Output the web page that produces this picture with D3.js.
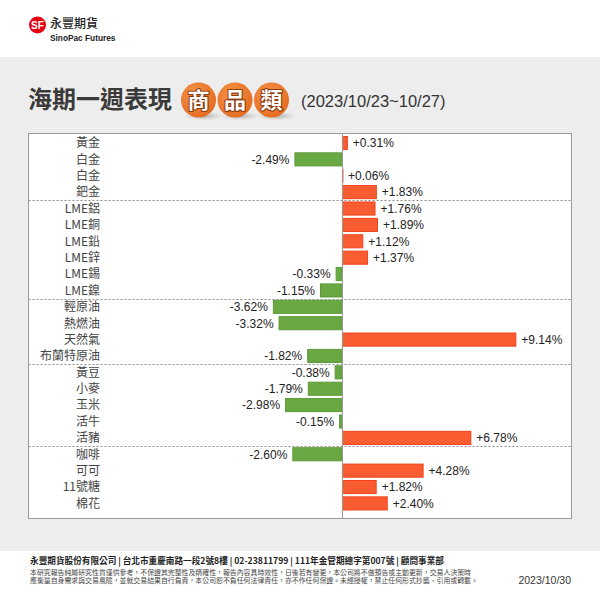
<!DOCTYPE html>
<html><head><meta charset="utf-8">
<script src="https://cdn.jsdelivr.net/npm/d3@7"></script>
<style>
html,body{margin:0;padding:0;background:#fff;}
svg{display:block;}
</style></head>
<body>
<svg id="chart" width="600" height="600"></svg>
<script>
const categories = ["黃金","白金","白金","鈀金","LME鋁","LME銅","LME鉛","LME鋅","LME錫","LME鎳","輕原油","熱燃油","天然氣","布蘭特原油","黃豆","小麥","玉米","活牛","活豬","咖啡","可可","11號糖","棉花"];
const values = [0.31,-2.49,0.06,1.83,1.76,1.89,1.12,1.37,-0.33,-1.15,-3.62,-3.32,9.14,-1.82,-0.38,-1.79,-2.98,-0.15,6.78,-2.60,4.28,1.82,2.40];
const groupEnds = ["鈀金","LME鎳","布蘭特原油","活豬"];
const titleText = "海期一週表現";
const badgeChars = ["商","品","類"];
const dateRange = "(2023/10/23~10/27)";
const companyLine = "永豐期貨股份有限公司 | 台北市重慶南路一段2號8樓 | 02-23811799 | 111年金管期總字第007號 | 顧問事業部";
const disclaimer = ["本研究報告純屬研究性質僅供參考，不保證其完整性及精確性，報告內容具時效性，日後若有變更，本公司將不做預告或主動更新，交易人決策時",
  "應衡量自身需求與交易風險，並就交易結果自行負責，本公司恕不負任何法律責任，亦不作任何保證。未經授權，禁止任何形式抄襲、引用或轉載。"];
const reportDate = "2023/10/30";

const svg = d3.select("#chart");
const CJK = "'Noto Sans CJK TC','Noto Sans CJK SC',sans-serif";
const LAT = "'Liberation Sans',Arial,sans-serif";

// backgrounds
svg.append("rect").attr("x",0).attr("y",0).attr("width",600).attr("height",600).attr("fill","#fff");
svg.append("rect").attr("x",0).attr("y",57).attr("width",600).attr("height",494).attr("fill","#ededed");

// logo
const logo = svg.append("g");
logo.append("circle").attr("cx",37.5).attr("cy",25).attr("r",8.5).attr("fill","#e60012");
logo.append("text").attr("x",37.5).attr("y",28.5).attr("text-anchor","middle").attr("font-family",LAT)
  .attr("font-weight","bold").attr("font-size",10).attr("fill","#fff").text("SF");
logo.append("text").attr("x",50).attr("y",28).attr("font-family",CJK).attr("font-weight","500")
  .attr("font-size",12).attr("fill","#222").text("永豐期貨");
logo.append("text").attr("x",50).attr("y",40.5).attr("font-family",LAT).attr("font-weight","bold")
  .attr("font-size",8.3).attr("fill","#222").text("SinoPac Futures");

// title
svg.append("text").attr("x",28).attr("y",108).attr("font-family",CJK).attr("font-weight","bold")
  .attr("font-size",24).attr("fill","#3a3a3a").text(titleText);

const defs = svg.append("defs");
const rg = defs.append("radialGradient").attr("id","badge").attr("cx","40%").attr("cy","35%").attr("r","70%");
rg.append("stop").attr("offset","0%").attr("stop-color","#f6964a");
rg.append("stop").attr("offset","100%").attr("stop-color","#e4691e");
const sg = defs.append("radialGradient").attr("id","shadow");
sg.append("stop").attr("offset","0%").attr("stop-color","#9a9a9a").attr("stop-opacity",0.8);
sg.append("stop").attr("offset","100%").attr("stop-color","#bbbbbb").attr("stop-opacity",0);

const badgeX = d3.scalePoint().domain(badgeChars).range([198.5, 271.5]);
const badges = svg.append("g").selectAll("g").data(badgeChars).join("g")
  .attr("transform", d => `translate(${badgeX(d)},100)`);
badges.append("ellipse").attr("cx",5).attr("cy",16).attr("rx",20).attr("ry",4.5).attr("fill","url(#shadow)");
badges.append("circle").attr("r",17.5).attr("fill","url(#badge)");
badges.append("text").attr("y",8).attr("text-anchor","middle").attr("font-family",CJK).attr("font-weight","bold")
  .attr("font-size",22).attr("fill","#fff").attr("stroke","#8a3c10").attr("stroke-width",2.2)
  .attr("paint-order","stroke").attr("stroke-linejoin","round").text(d => d);

svg.append("text").attr("x",301).attr("y",107).attr("font-family",LAT)
  .attr("font-size",16.5).attr("fill","#333").text(dateRange);

// chart box
const box = {x0:28.5, y0:133.5, x1:571.5, y1:518.5};
svg.append("rect").attr("x",box.x0).attr("y",box.y0).attr("width",box.x1-box.x0).attr("height",box.y1-box.y0)
  .attr("fill","#fff").attr("stroke","#9a9a9a").attr("stroke-width",1);

const x = d3.scaleLinear().domain([-16.4, 11.9]).range([29, 569]);
const y = d3.scaleBand().domain(d3.range(categories.length)).range([134.8, 511.6]).paddingInner(0.14).paddingOuter(0.07);

// separators
const sepIdx = groupEnds.map(g => categories.indexOf(g));
svg.append("g").selectAll("line").data(sepIdx).join("line")
  .attr("x1",box.x0).attr("x2",box.x1)
  .attr("y1", i => Math.round(y(i) + y.bandwidth() + y.step()*y.paddingInner()/2) + 0.5)
  .attr("y2", i => Math.round(y(i) + y.bandwidth() + y.step()*y.paddingInner()/2) + 0.5)
  .attr("stroke","#8a8a8a").attr("stroke-width",1).attr("stroke-dasharray","2,2");

// category labels
svg.append("g").selectAll("text").data(categories).join("text")
  .attr("x",100).attr("y",(d,i) => y(i) + y.bandwidth()/2 + 4.3)
  .attr("text-anchor","end").attr("font-family",CJK).attr("font-size",12).attr("fill","#444")
  .text(d => d);

// bars
svg.append("g").selectAll("rect").data(values).join("rect")
  .attr("x", v => x(Math.min(0,v)) + 0.5)
  .attr("y", (v,i) => y(i) + 0.5)
  .attr("width", v => Math.max(0.5, Math.abs(x(v)-x(0)) - 1))
  .attr("height", y.bandwidth() - 1)
  .attr("fill", v => v >= 0 ? "#fa5c32" : "#6aa843")
  .attr("stroke", v => v >= 0 ? "#f0421a" : "#5d9a38")
  .attr("stroke-width",1);

// zero line
svg.append("line").attr("x1",Math.round(x(0))+0.5).attr("x2",Math.round(x(0))+0.5)
  .attr("y1",box.y0).attr("y2",box.y1).attr("stroke","#999").attr("stroke-width",1);

// value labels
const fmt = v => (v>=0?"+":"") + v.toFixed(2) + "%";
svg.append("g").selectAll("text").data(values).join("text")
  .attr("x", v => v >= 0 ? x(v) + 5 : x(v) - 5)
  .attr("y", (v,i) => y(i) + y.bandwidth()/2 + 4.3)
  .attr("text-anchor", v => v >= 0 ? "start" : "end")
  .attr("font-family",LAT).attr("font-size",12).attr("fill","#222")
  .text(fmt);

// footer
svg.append("text").attr("x",30).attr("y",564).attr("font-family",CJK).attr("font-weight","bold")
  .attr("font-size",8.65).attr("fill","#222").text(companyLine);
svg.append("g").selectAll("text").data(disclaimer).join("text")
  .attr("x",30).attr("y",(d,i) => 574.5 + i*8.5).attr("font-family",CJK)
  .attr("font-size",6.9).attr("fill","#444").text(d => d);
svg.append("text").attr("x",571).attr("y",584).attr("text-anchor","end").attr("font-family",LAT)
  .attr("font-size",10.5).attr("fill","#333").text(reportDate);
</script>
</body></html>
